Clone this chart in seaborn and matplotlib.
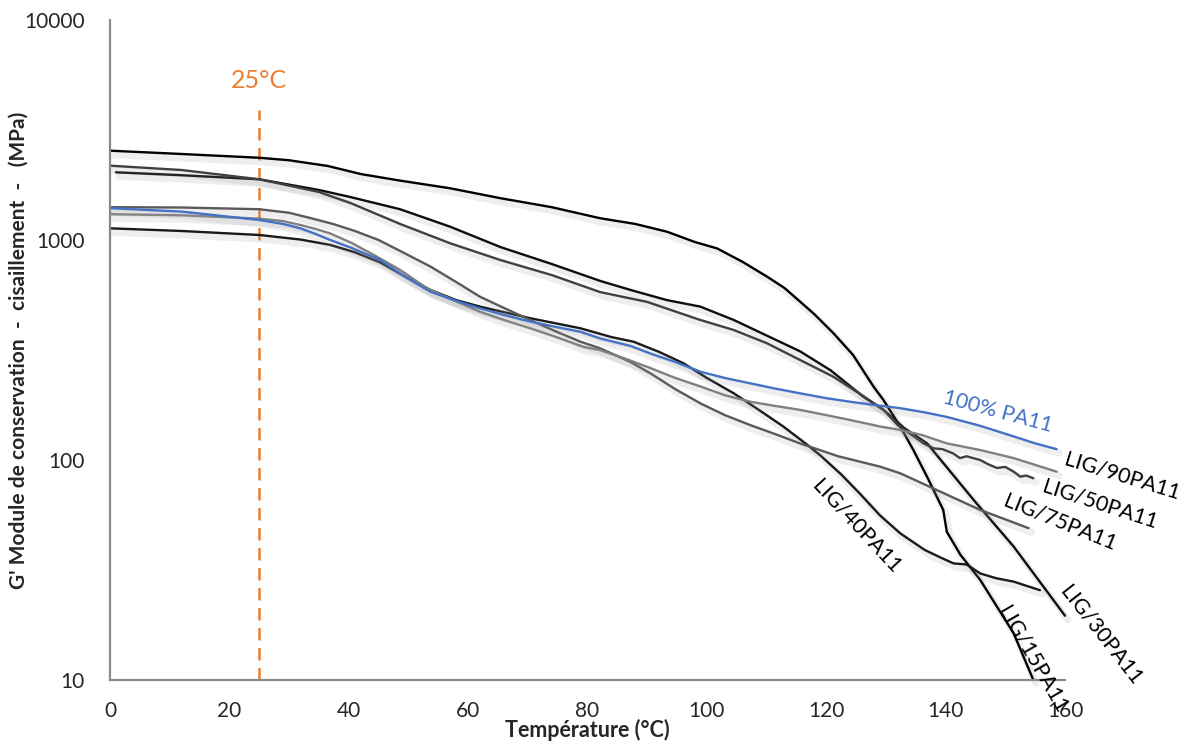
import numpy as np
import pandas as pd
import matplotlib
matplotlib.use("Agg")
import matplotlib.pyplot as plt
import matplotlib.patheffects as pe
from matplotlib.ticker import FixedLocator, LogLocator, NullFormatter
import seaborn as sns

# ---------------- data ----------------
t_15 = [0, 12, 25, 30, 36.5, 42, 48.6, 57, 65.4, 74, 82.1, 88, 93.3, 98, 101.7, 106, 110.1,
        113, 115.6, 118, 121.2, 124.5, 127.9, 129.6, 132.4, 134.6, 137, 139.6, 140.2, 142.5,
        145.8, 151.4, 154.7]
g_15 = [2547, 2460, 2365, 2304, 2170, 1995, 1862, 1718, 1549, 1410, 1256, 1183, 1091, 979, 916,
        795, 681, 605, 525, 460, 377, 300, 216, 187, 142, 111, 82.8, 59.3, 47.2, 37,
        28.5, 16.3, 10]

t_30 = [1, 12, 25, 35, 40.3, 48.6, 57, 65.4, 74, 82.1, 87.2, 93.3, 98.9, 104.5, 110.1, 115.6,
        120.7, 126.2, 129.6, 133, 136.9, 144.7, 151.4, 160]
g_30 = [2031, 1970, 1888, 1688, 1567, 1380, 1149, 929, 778, 652, 593, 533, 498, 433, 367, 312,
        256, 194, 169, 140, 119, 65.8, 40.4, 19.6]

t_40 = [0, 12, 25, 31.9, 36.9, 41, 45.3, 49.5, 53.7, 58, 62, 70.4, 78.8, 84, 87.7, 92, 96.1,
        100, 104.5, 108.7, 112.8, 116.5, 119, 122.5, 125.7, 129, 132.4, 136.5, 139, 141.3,
        143.5, 145.8, 148.5, 151.4, 155.8]
g_40 = [1130, 1099, 1054, 1005, 950, 880, 790, 680, 593, 533, 498, 441, 397, 362, 345, 310, 275,
        236, 201, 169, 142, 119, 105, 86, 70, 56, 46.4, 39, 36.2, 33.9,
        33.5, 30.5, 29, 28.0, 25.6]

t_50 = [0, 12, 25, 35, 40.3, 48.6, 57, 65.4, 74, 82.1, 90, 98.9, 104.5, 110.1, 115.6, 121.2,
        126, 129.6, 132, 136.3, 138, 139.5, 141.3, 142.4, 143.5, 145.8, 147, 148.6,
        150, 151.4, 152.5, 153.5, 154.7]
g_50 = [2177, 2080, 1888, 1653, 1472, 1183, 966, 811, 693, 580, 523, 433, 390, 339, 285, 239,
        197, 169, 144, 119, 113, 112, 107, 102, 104, 100, 96, 92,
        93, 88.5, 84, 85, 82.6]

t_75 = [0, 12, 25, 30, 34, 37.5, 41, 45, 48.6, 53.7, 58, 62, 66, 70.4, 74.6, 78.8, 82.1, 87.2,
        90.5, 94.7, 98.9, 103, 107.3, 111.5, 115.6, 122, 129, 132.4, 145.8, 153.9]
g_75 = [1410, 1405, 1380, 1330, 1250, 1180, 1100, 1000, 892, 757, 644, 552, 491, 433, 385, 345,
        322, 279, 248, 210, 181, 160, 144, 131, 119, 104, 93.3, 87, 59.3, 49]

t_90 = [0, 12, 25, 29, 31.9, 34.5, 36.9, 40.5, 44.2, 48.6, 53.1, 57.5, 62, 66, 70.4, 74.8, 79.3,
        82.1, 86, 90.5, 94.7, 98.9, 103, 107.3, 111.5, 115.6, 120, 124, 129, 132.4, 136,
        140.2, 145.8, 151.4, 155, 158.6]
g_90 = [1310, 1295, 1251, 1219, 1170, 1122, 1071, 969, 855, 731, 603, 533, 472, 433, 397, 362, 327,
        316, 291, 262, 236, 216, 197, 184, 176, 169, 160, 152, 142, 137, 130,
        119, 111, 102, 95, 88.5]

t_pa = [0, 12, 25, 29, 31.9, 34.5, 36.9, 40.5, 45.3, 49.5, 53.7, 58, 62, 66, 70.4, 74.6, 78.8,
        82.1, 87.2, 90.5, 94.7, 98.9, 103, 107.3, 111.5, 115.6, 120, 124, 128, 132.4, 136.3,
        140.2, 145.8, 151.4, 155, 158.6]
g_pa = [1395, 1346, 1233, 1183, 1130, 1064, 1000, 920, 811, 679, 582, 528, 489, 456, 426, 403, 383,
        357, 330, 305, 279, 252, 236, 223, 211, 201, 191, 184, 178, 172, 165,
        157, 143, 128, 119, 112]

series_names = ["LIG/15PA11", "LIG/30PA11", "LIG/40PA11", "LIG/50PA11",
                "LIG/75PA11", "LIG/90PA11", "100% PA11"]
series_t = [t_15, t_30, t_40, t_50, t_75, t_90, t_pa]
series_g = [g_15, g_30, g_40, g_50, g_75, g_90, g_pa]

ref_temp = 25          # vertical reference line
ref_top = 3900
ref_label = "25°C"

x_ticks = [0, 20, 40, 60, 80, 100, 120, 140, 160]
y_ticks = [10, 100, 1000, 10000]

# ---------------- styles ----------------
colors = {
    "LIG/15PA11": "#000000",
    "LIG/30PA11": "#0d0d0d",
    "LIG/40PA11": "#1a1a1a",
    "LIG/50PA11": "#404040",
    "LIG/75PA11": "#5a5a5a",
    "LIG/90PA11": "#808080",
    "100% PA11": "#4472C4",
}
# label position (T, G) and rotation
label_pos = {
    "100% PA11": (148.8, 166, -15),
    "LIG/90PA11": (169.6, 84, -17),
    "LIG/50PA11": (165.8, 63, -18),
    "LIG/75PA11": (159.2, 52, -22),
    "LIG/40PA11": (125.0, 50, -47),
    "LIG/15PA11": (154.6, 12.4, -60),
    "LIG/30PA11": (166.0, 16.0, -52),
}

sns.set_style("white")
plt.rcParams["font.family"] = ["Lato", "DejaVu Sans"]

fig = plt.figure(figsize=(11.9, 7.42), dpi=100)
ax = fig.add_axes([110 / 1190, 1 - 680 / 742, (1065 - 110) / 1190, (680 - 20) / 742])

shadow = [pe.SimpleLineShadow(offset=(2, -3), shadow_color="#9a9a9a", alpha=0.16, linewidth=5),
          pe.Normal()]

for name, tt, gg in zip(series_names, series_t, series_g):
    df = pd.DataFrame({"T": tt, "G": gg})
    sns.lineplot(data=df, x="T", y="G", ax=ax, color=colors[name], linewidth=1.7,
                 sort=False, estimator=None, path_effects=shadow, clip_on=False)

# reference line
ax.plot([ref_temp, ref_temp], [10, ref_top], color="#ED7D31", lw=1.8,
        ls=(0, (5, 3)), zorder=1)
ax.text(ref_temp, 5300, ref_label, color="#ED7D31", fontsize=18,
        ha="center", va="center")

for name, (tx, gy, rot) in label_pos.items():
    ax.text(tx, gy, name, color=colors[name] if name == "100% PA11" else "black",
            fontsize=15.5, rotation=rot, ha="center", va="center",
            rotation_mode="anchor", clip_on=False)

ax.set_yscale("log")
ax.set_xlim(0, 160)
ax.set_ylim(10, 10000)
ax.xaxis.set_major_locator(FixedLocator(x_ticks))
ax.yaxis.set_major_locator(FixedLocator(y_ticks))
ax.set_yticklabels([str(v) for v in y_ticks])
ax.yaxis.set_minor_locator(LogLocator(base=10, subs=np.arange(2, 10)))
ax.yaxis.set_minor_formatter(NullFormatter())

for s in ["top", "right"]:
    ax.spines[s].set_visible(False)
for s in ["left", "bottom"]:
    ax.spines[s].set_color("#8a8a8a")
    ax.spines[s].set_linewidth(1.6)

ax.tick_params(axis="x", which="major", direction="in", length=6, width=1.2,
               color="#8a8a8a", labelsize=15, pad=15)
ax.tick_params(axis="y", which="major", direction="in", length=6, width=1.2,
               color="#8a8a8a", labelsize=15, pad=18)
ax.tick_params(axis="y", which="minor", direction="in", length=6, width=1.2,
               color="#8a8a8a")

ax.set_xlabel("Température (°C)", fontsize=15.5, fontweight="bold")
ax.xaxis.set_label_coords(0.5, -0.059)
ax.set_ylabel("G' Module de conservation  -  cisaillement  -   (MPa)", fontsize=15,
              fontweight="bold")
ax.yaxis.set_label_coords(-0.085, 0.5)

fig.savefig("out.png", dpi=100)
